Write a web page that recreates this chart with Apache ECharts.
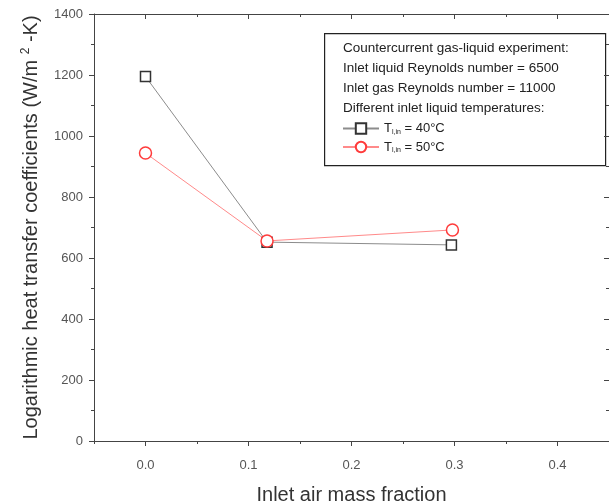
<!DOCTYPE html>
<html>
<head>
<meta charset="utf-8">
<script src="https://cdn.jsdelivr.net/npm/echarts@6/dist/echarts.min.js"></script>
<style>
  html, body { margin: 0; padding: 0; background: #fff; }
  #chart { width: 609px; height: 504px; }
</style>
</head>
<body>
<div id="chart"></div>
<script>
// Inlet air mass fraction vs. logarithmic heat transfer coefficient
const airFraction40 = [0.0, 0.118, 0.297];
const htc40 = [1195, 652, 643];
const airFraction50 = [0.0, 0.118, 0.298];
const htc50 = [944, 656, 692];

const xTickLabels = [0.0, 0.1, 0.2, 0.3, 0.4];
const xMinorTicks = [-0.05, 0.05, 0.15, 0.25, 0.35, 0.45];
const infoLines = [
  'Countercurrent gas-liquid experiment:',
  'Inlet liquid Reynolds number = 6500',
  'Inlet gas Reynolds number = 11000',
  'Different inlet liquid temperatures:'
];
const seriesNames = ['T40', 'T50'];
const seriesTemps = ['40°C', '50°C'];

const font = 'Liberation Sans, Arial, sans-serif';
const axisColor = '#444';
const labelColor = '#555';

const chart = echarts.init(document.getElementById('chart'));

const baseX = {
  type: 'value', min: -0.05, max: 0.45, gridIndex: 0,
  splitLine: { show: false },
  axisLine: { onZero: false, lineStyle: { color: axisColor, width: 1 } }
};

const option = {
  animation: false,
  backgroundColor: '#fff',
  grid: { left: 94, top: 14, right: 0, bottom: 63, containLabel: false, outerBoundsMode: 'none' },
  xAxis: [
    Object.assign({}, baseX, {
      position: 'bottom',
      name: 'Inlet air mass fraction',
      nameLocation: 'middle',
      nameGap: 44,
      nameTextStyle: { fontFamily: font, fontSize: 20, color: '#333' },
      axisTick: { length: 5, customValues: xTickLabels, lineStyle: { color: axisColor } },
      axisLabel: { customValues: xTickLabels, margin: 18, fontFamily: font, fontSize: 13, color: labelColor,
        formatter: v => v.toFixed(1) }
    }),
    Object.assign({}, baseX, {
      position: 'bottom',
      axisTick: { length: 3, customValues: xMinorTicks, lineStyle: { color: axisColor } },
      axisLabel: { show: false }
    }),
    Object.assign({}, baseX, {
      position: 'top',
      axisTick: { inside: true, length: 5, customValues: xTickLabels, lineStyle: { color: axisColor } },
      axisLabel: { show: false }
    }),
    Object.assign({}, baseX, {
      position: 'top',
      axisTick: { inside: true, length: 3, customValues: xMinorTicks, lineStyle: { color: axisColor } },
      axisLabel: { show: false }
    })
  ],
  yAxis: [
    {
      type: 'value', min: 0, max: 1400, interval: 200, position: 'left',
      name: '{n|Logarithmic heat transfer coefficients (W/m }{sup|2}{n| -K)}',
      nameLocation: 'middle',
      nameGap: 52,
      nameTextStyle: {
        rich: {
          n: { fontFamily: font, fontSize: 20, color: '#333' },
          sup: { fontFamily: font, fontSize: 12, color: '#333', verticalAlign: 'top', padding: [0, 0, 10, 0] }
        }
      },
      splitLine: { show: false },
      axisLine: { onZero: false, lineStyle: { color: axisColor } },
      axisTick: { length: 5, lineStyle: { color: axisColor } },
      minorTick: { show: true, splitNumber: 2, length: 3, lineStyle: { color: axisColor } },
      axisLabel: { margin: 11, fontFamily: font, fontSize: 13, color: labelColor, formatter: v => String(v) }
    },
    {
      type: 'value', min: 0, max: 1400, interval: 200, position: 'right',
      splitLine: { show: false },
      axisLine: { onZero: false, lineStyle: { color: axisColor } },
      axisTick: { inside: true, length: 5, lineStyle: { color: axisColor } },
      minorTick: { show: true, splitNumber: 2, length: 3, lineStyle: { color: axisColor } },
      axisLabel: { show: false }
    }
  ],
  legend: {
    orient: 'vertical',
    left: 337,
    top: 117,
    itemGap: 5,
    itemWidth: 36,
    itemHeight: 13,
    data: seriesNames,
    formatter: name => {
      const t = seriesTemps[seriesNames.indexOf(name)];
      return '{a|T}{s|l,in}{a| = ' + t + '}';
    },
    textStyle: {
      rich: {
        a: { fontFamily: font, fontSize: 13, color: '#222' },
        s: { fontFamily: font, fontSize: 7, color: '#222', verticalAlign: 'bottom', padding: [7, 0, 0, 0] }
      }
    }
  },
  graphic: [
    {
      type: 'rect', left: 324, top: 33,
      shape: { width: 281, height: 132 },
      style: { fill: '#fff', stroke: '#222', lineWidth: 1.2 },
      z: 0
    },
    ...infoLines.map((s, i) => ({
      type: 'text', left: 343, top: 41 + i * 20,
      style: { text: s, font: '13.5px ' + font, fill: '#222' },
      z: 1
    }))
  ],
  series: [
    {
      name: seriesNames[0], type: 'line',
      data: airFraction40.map((x, i) => [x, htc40[i]]),
      symbol: 'rect', symbolSize: 10,
      lineStyle: { color: '#8c8c8c', width: 1 },
      itemStyle: { color: '#fff', borderColor: '#333', borderWidth: 1.5 },
      z: 5
    },
    {
      name: seriesNames[1], type: 'line',
      data: airFraction50.map((x, i) => [x, htc50[i]]),
      symbol: 'circle', symbolSize: 12,
      lineStyle: { color: '#ff8a8a', width: 1 },
      itemStyle: { color: '#fff', borderColor: '#ff3b3b', borderWidth: 1.5 },
      z: 6
    }
  ]
};

chart.setOption(option);
</script>
</body>
</html>
